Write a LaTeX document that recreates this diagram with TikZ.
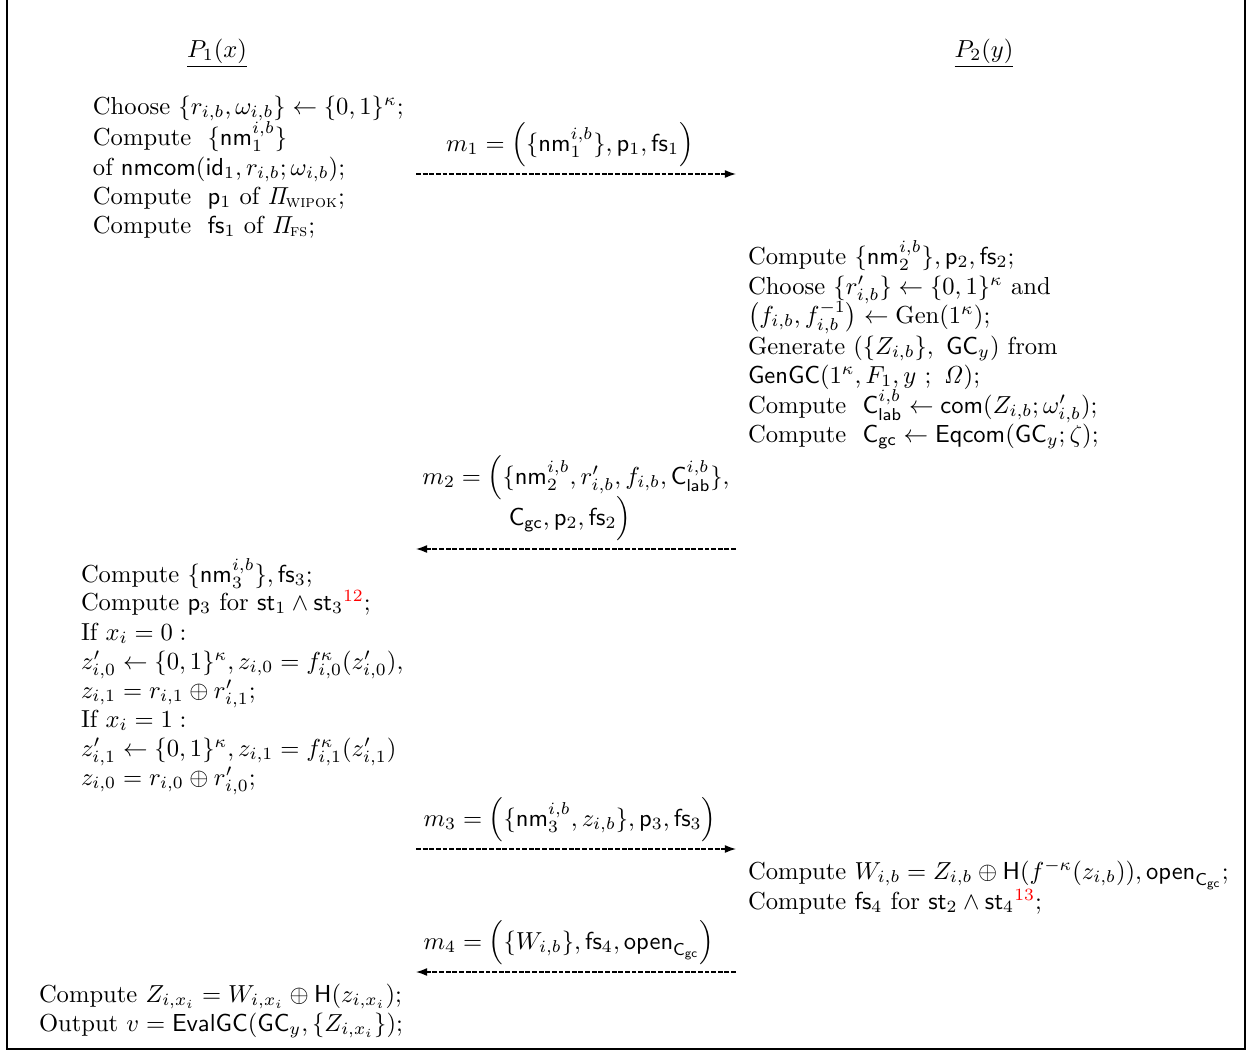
\documentclass[tikz,border=0pt]{standalone}
\usepackage{amsmath,amssymb}
\usetikzlibrary{arrows.meta}
\begin{document}
\begin{tikzpicture}[x=0.4068pt,y=-0.4068pt,
  ln/.style={anchor=base west,inner sep=0pt,outer sep=0pt},
  hd/.style={anchor=base,inner sep=0pt},
  msg/.style={anchor=base,inner sep=0pt,align=center},
  flow/.style={line width=0.5pt,dash pattern=on 2pt off 0.7pt,-{Latex[length=4.5pt,width=3.2pt]}},
  frame/.style={line width=0.45pt}]
\useasboundingbox (0,0) rectangle (1248,1051);
\draw[frame] (7,-2) -- (7,1049) -- (1245,1049) -- (1245,-2);
% headers
\node[hd] (h1) at (217,57) {\underline{$P_1(x)$}};
\node[hd] (h2) at (984,57) {\underline{$P_2(y)$}};
% left block 1
\node[ln] (l1) at (93,114) {Choose $\{r_{i,b},\omega_{i,b}\}\leftarrow\{0,1\}^\kappa$;};
\node[ln] (l2) at (93,145) {Compute\ \ $\{\mathsf{nm}_1^{i,b}\}$};
\node[ln] (l3) at (93,175) {of $\mathsf{nmcom}(\mathsf{id}_1,r_{i,b};\omega_{i,b})$;};
\node[ln] (l4) at (93,204) {Compute\ \ $\mathsf{p}_1$ of $\mathit{\Pi}_{\text{\scshape wipok}}$;};
\node[ln] (l5) at (93,233) {Compute\ \ $\mathsf{fs}_1$ of $\mathit{\Pi}_{\text{\scshape fs}}$;};
% m1
\node[msg] (m1) at (570,151) {$m_1=\Big(\{\mathsf{nm}_1^{i,b}\},\mathsf{p}_1,\mathsf{fs}_1\Big)$};
\coordinate (a1s) at (416,174);
\coordinate (a1e) at (736,174);
\draw[flow] (a1s) -- (a1e);
% right block 1
\node[ln] (r1) at (748,264) {Compute $\{\mathsf{nm}_2^{i,b}\},\mathsf{p}_2,\mathsf{fs}_2$;};
\node[ln] (r2) at (748,294) {Choose $\{r'_{i,b}\}\leftarrow\{0,1\}^\kappa$ and};
\node[ln] (r3) at (748,323) {$\big(f_{i,b},f_{i,b}^{-1}\big)\leftarrow\mathrm{Gen}(1^\kappa)$;};
\node[ln] (r4) at (748,354) {Generate $(\{Z_{i,b}\},\ \mathsf{GC}_y)$ from};
\node[ln] (r5) at (748,383) {$\mathsf{GenGC}(1^\kappa,F_1,y\ ;\ \mathit{\Omega})$;};
\node[ln] (r6) at (748,413) {Compute\ \ $\mathsf{C}_{\mathsf{lab}}^{i,b}\leftarrow\mathsf{com}(Z_{i,b};\omega'_{i,b})$;};
\node[ln] (r7) at (748,442) {Compute\ \ $\mathsf{C}_{\mathsf{gc}}\leftarrow\mathsf{Eqcom}(\mathsf{GC}_y;\zeta)$;};
% m2
\node[msg] (m2a) at (576,484) {$m_2=\Big(\{\mathsf{nm}_2^{i,b},r'_{i,b},f_{i,b},\mathsf{C}_{\mathsf{lab}}^{i,b}\},$};
\node[msg] (m2b) at (570,525) {$\mathsf{C}_{\mathsf{gc}},\mathsf{p}_2,\mathsf{fs}_2\Big)$};
\coordinate (a2s) at (736,549);
\coordinate (a2e) at (416,549);
\draw[flow] (a2s) -- (a2e);
% left block 2
\node[ln] (k1) at (81,582) {Compute $\{\mathsf{nm}_3^{i,b}\},\mathsf{fs}_3$;};
\node[ln] (k2) at (81,610) {Compute $\mathsf{p}_3$ for $\mathsf{st}_1\wedge\mathsf{st}_3{}^{\textcolor{red}{12}}$;};
\node[ln] (k3) at (81,640) {If $x_i=0:$};
\node[ln] (k4) at (81,669) {$z'_{i,0}\leftarrow\{0,1\}^\kappa,z_{i,0}=f_{i,0}^\kappa(z'_{i,0}),$};
\node[ln] (k5) at (81,698) {$z_{i,1}=r_{i,1}\oplus r'_{i,1};$};
\node[ln] (k6) at (81,727) {If $x_i=1:$};
\node[ln] (k7) at (81,756) {$z'_{i,1}\leftarrow\{0,1\}^\kappa,z_{i,1}=f_{i,1}^\kappa(z'_{i,1})$};
\node[ln] (k8) at (81,785) {$z_{i,0}=r_{i,0}\oplus r'_{i,0};$};
% m3
\node[msg] (m3) at (570,826) {$m_3=\Big(\{\mathsf{nm}_3^{i,b},z_{i,b}\},\mathsf{p}_3,\mathsf{fs}_3\Big)$};
\coordinate (a3s) at (416,849);
\coordinate (a3e) at (736,849);
\draw[flow] (a3s) -- (a3e);
% right block 2
\node[ln] (s1) at (748,879) {Compute $W_{i,b}=Z_{i,b}\oplus\mathsf{H}(f^{-\kappa}(z_{i,b})),\mathsf{open}_{\mathsf{C}_{\mathsf{gc}}}$;};
\node[ln] (s2) at (748,909) {Compute $\mathsf{fs}_4$ for $\mathsf{st}_2\wedge\mathsf{st}_4{}^{\textcolor{red}{13}}$;};
% m4
\node[msg] (m4) at (569,949) {$m_4=\Big(\{W_{i,b}\},\mathsf{fs}_4,\mathsf{open}_{\mathsf{C}_{\mathsf{gc}}}\Big)$};
\coordinate (a4s) at (736,972);
\coordinate (a4e) at (416,972);
\draw[flow] (a4s) -- (a4e);
% last block
\node[ln] (f1) at (39,1002) {Compute $Z_{i,x_i}=W_{i,x_i}\oplus\mathsf{H}(z_{i,x_i})$;};
\node[ln] (f2) at (39,1031) {Output $v=\mathsf{EvalGC}(\mathsf{GC}_y,\{Z_{i,x_i}\})$;};
\end{tikzpicture}
\end{document}
